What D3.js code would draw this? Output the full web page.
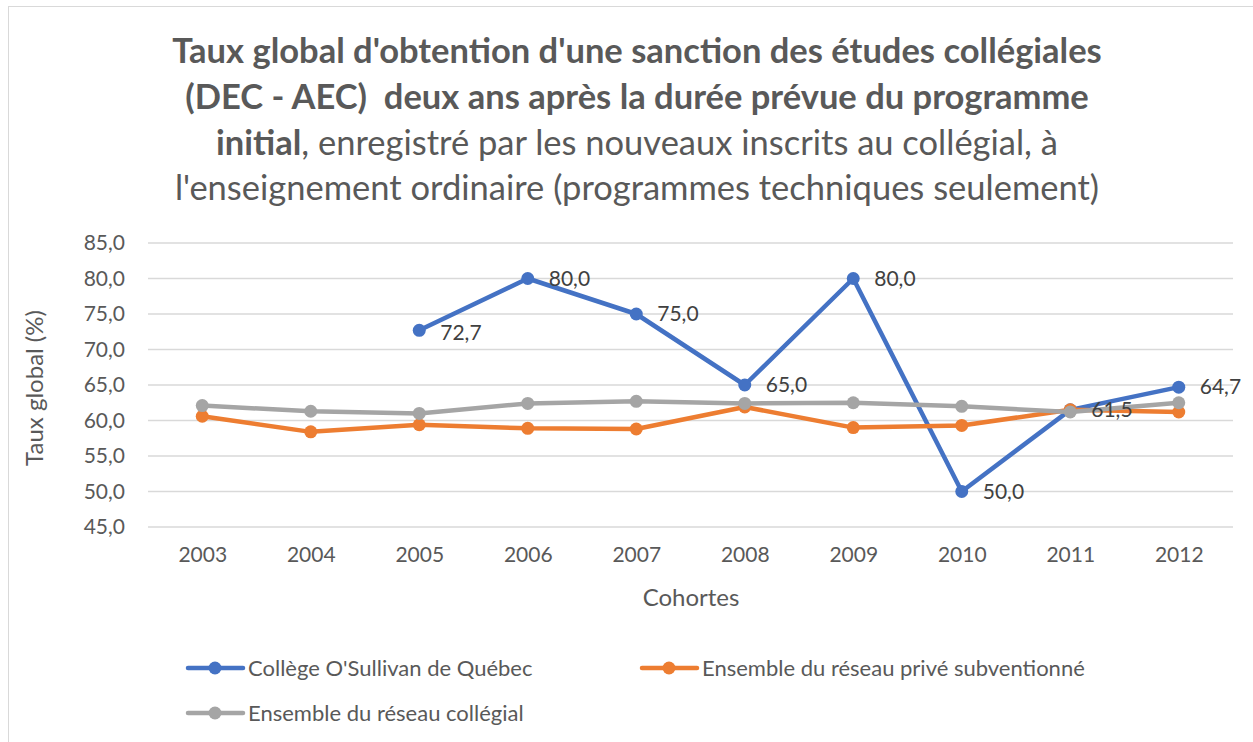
<!DOCTYPE html>
<html>
<head>
<meta charset="utf-8">
<script src="https://cdn.jsdelivr.net/npm/d3@7"></script>
<style>
  body { margin: 0; background: #fff; }
  text { font-family: Lato, "Open Sans", sans-serif; }
</style>
</head>
<body>
<div id="chart"></div>
<script>
// data
let years = ["2003", "2004", "2005", "2006", "2007", "2008", "2009", "2010", "2011", "2012"];
let osullivan = [null, null, 72.7, 80.0, 75.0, 65.0, 80.0, 50.0, 61.5, 64.7];
let prive = [60.6, 58.4, 59.4, 58.9, 58.8, 61.9, 59.0, 59.3, 61.5, 61.2];
let reseau = [62.1, 61.3, 61.0, 62.4, 62.7, 62.4, 62.5, 62.0, 61.2, 62.5];
let yTicks = [45, 50, 55, 60, 65, 70, 75, 80, 85];

let seriesNames = ["Collège O'Sullivan de Québec", "Ensemble du réseau privé subventionné", "Ensemble du réseau collégial"];
let seriesColors = ["#4472C4", "#ED7D31", "#A5A5A5"];
let seriesValues = [osullivan, prive, reseau];

let W = 1253, H = 742;
let margin = {top: 243, left: 148},
    width = 1233 - margin.left,
    height = 527 - margin.top;

let fmt = function(v) { return v.toFixed(1).replace(".", ","); };

let root = d3.select("#chart")
    .append("svg")
    .attr("width", W)
    .attr("height", H);

// chart area border
root.append("rect")
    .attr("x", 8.5).attr("y", 6.5)
    .attr("width", W).attr("height", H)
    .attr("fill", "none")
    .attr("stroke", "#d9d9d9")
    .attr("stroke-width", 1);

// title
let title = root.append("text")
    .attr("text-anchor", "middle")
    .attr("fill", "#595959")
    .style("white-space", "pre")
    .style("font-size", "34.5px");
title.append("tspan").attr("x", 637).attr("y", 63)
    .style("font-weight", "bold")
    .text("Taux global d'obtention d'une sanction des études collégiales");
title.append("tspan").attr("x", 637).attr("y", 109)
    .style("font-weight", "bold")
    .text("(DEC - AEC)  deux ans après la durée prévue du programme");
let l3 = title.append("tspan").attr("x", 637).attr("y", 155);
l3.append("tspan").style("font-weight", "bold").text("initial");
l3.append("tspan").text(", enregistré par les nouveaux inscrits au collégial, à");
title.append("tspan").attr("x", 637).attr("y", 200)
    .text("l'enseignement ordinaire (programmes techniques seulement)");

let svg = root.append("g")
    .attr("transform", "translate(" + margin.left + "," + margin.top + ")");

let x = d3.scalePoint()
    .domain(years)
    .range([0, width])
    .padding(0.5);

let y = d3.scaleLinear()
    .domain([45, 85])
    .range([height, 0]);

// gridlines
svg.append("g")
    .selectAll("line")
    .data(yTicks)
    .enter()
    .append("line")
    .attr("x1", 0).attr("x2", width)
    .attr("y1", function(d) { return y(d); })
    .attr("y2", function(d) { return y(d); })
    .attr("stroke", "#d9d9d9")
    .attr("stroke-width", 1.3);

// Y axis
let yAxis = svg.append("g")
    .call(d3.axisLeft(y).tickValues(yTicks).tickFormat(fmt).tickSize(0).tickPadding(23));
yAxis.select(".domain").remove();
yAxis.selectAll("text")
    .attr("fill", "#595959")
    .style("font-size", "21px")
    .style("font-family", "Lato, sans-serif");

// X axis
let xAxis = svg.append("g")
    .attr("transform", "translate(0," + height + ")")
    .call(d3.axisBottom(x).tickSize(0).tickPadding(20));
xAxis.select(".domain").remove();
xAxis.selectAll("text")
    .attr("fill", "#595959")
    .style("font-size", "21px")
    .style("font-family", "Lato, sans-serif");

// axis titles
root.append("text")
    .attr("x", 691).attr("y", 606)
    .attr("text-anchor", "middle")
    .attr("fill", "#595959")
    .style("font-size", "24px")
    .text("Cohortes");

root.append("text")
    .attr("transform", "translate(43," + 388 + ") rotate(-90)")
    .attr("text-anchor", "middle")
    .attr("fill", "#595959")
    .style("font-size", "24px")
    .text("Taux global (%)");

// series
let line = d3.line()
    .defined(function(d) { return d.v != null; })
    .x(function(d) { return x(d.year); })
    .y(function(d) { return y(d.v); });

seriesValues.forEach(function(vals, i) {
    let data = years.map(function(yr, j) { return {year: yr, v: vals[j]}; });
    svg.append("path")
        .datum(data)
        .attr("fill", "none")
        .attr("stroke", seriesColors[i])
        .attr("stroke-width", 4.5)
        .attr("stroke-linejoin", "round")
        .attr("stroke-linecap", "round")
        .attr("d", line);
    svg.append("g")
        .selectAll("circle")
        .data(data.filter(function(d) { return d.v != null; }))
        .enter()
        .append("circle")
        .attr("cx", function(d) { return x(d.year); })
        .attr("cy", function(d) { return y(d.v); })
        .attr("r", 6.5)
        .attr("fill", seriesColors[i]);
});

// data labels for the college series
let labelData = years.map(function(yr, j) { return {year: yr, v: osullivan[j]}; })
    .filter(function(d) { return d.v != null; });
svg.append("g")
    .selectAll("text")
    .data(labelData)
    .enter()
    .append("text")
    .attr("x", function(d) { return x(d.year) + 21; })
    .attr("y", function(d) { return y(d.v) + (d.year === "2005" ? 2 : 0); })
    .attr("dy", "0.35em")
    .attr("fill", "#404040")
    .style("font-size", "21px")
    .text(function(d) { return fmt(d.v); });

// legend
let legendPos = [[188, 668], [642, 668], [188, 713]];
seriesNames.forEach(function(name, i) {
    let g = root.append("g")
        .attr("transform", "translate(" + legendPos[i][0] + "," + legendPos[i][1] + ")");
    g.append("line")
        .attr("x1", 0).attr("x2", 55)
        .attr("stroke", seriesColors[i])
        .attr("stroke-width", 4.5)
        .attr("stroke-linecap", "round");
    g.append("circle")
        .attr("cx", 27).attr("r", 6.5)
        .attr("fill", seriesColors[i]);
    g.append("text")
        .attr("x", 60)
        .attr("dy", "0.35em")
        .attr("fill", "#595959")
        .style("font-size", "22px")
        .text(name);
});
</script>
</body>
</html>
